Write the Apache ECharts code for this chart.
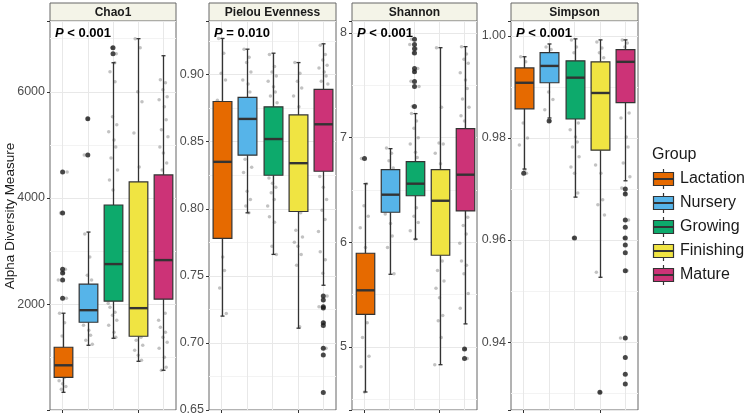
<!DOCTYPE html>
<html>
<head>
<meta charset="utf-8">
<script src="https://cdn.jsdelivr.net/npm/echarts@6/dist/echarts.min.js"></script>
<style>
  html, body { margin: 0; background: #fff; }
  #chart { width: 750px; height: 417px; }
</style>
</head>
<body>
<div id="chart"></div>
<script>
const GROUPS = ["Lactation", "Nursery", "Growing", "Finishing", "Mature"];
const GROUP_COLORS = ["#E66A00", "#56B4E9", "#0DAA6C", "#F0E442", "#CC3377"];
const PANEL_TITLES = ["Chao1", "Pielou Evenness", "Shannon", "Simpson"];
const P_TEXTS = ["< 0.001", "= 0.010", "< 0.001", "< 0.001"];
const Y_TITLE = "Alpha Diversity Measure";
const LEGEND_TITLE = "Group";

// box stats per group: [lower whisker, q1, median, q3, upper whisker]
const chao1Box = [[340, 622, 849, 1189, 1830], [1226, 1660, 1887, 2377, 3358], [1358, 2057, 2755, 3868, 6547], [924, 1396, 1925, 4302, 7000], [755, 2094, 2830, 4434, 6679]];
const pielouBox = [[0.720, 0.778, 0.835, 0.880, 0.927], [0.797, 0.840, 0.867, 0.883, 0.919], [0.766, 0.825, 0.852, 0.876, 0.916], [0.711, 0.798, 0.834, 0.870, 0.909], [0.743, 0.828, 0.863, 0.889, 0.923]];
const shannonBox = [[4.569, 5.311, 5.541, 5.895, 6.560], [5.694, 6.287, 6.455, 6.694, 6.895], [6.03, 6.445, 6.56, 6.77, 7.23], [4.83, 5.876, 6.397, 6.694, 7.86], [5.22, 6.30, 6.646, 7.086, 7.87]];
const simpsonBox = [[0.9739, 0.9857, 0.9908, 0.9937, 0.9959], [0.9839, 0.9908, 0.9941, 0.9967, 0.9984], [0.9684, 0.9837, 0.9918, 0.9951, 0.9994], [0.9527, 0.9776, 0.9888, 0.9949, 0.9992], [0.9716, 0.9869, 0.9949, 0.9973, 0.9992]];

// outliers: [group index, value]
const chao1Out = [[0, 2113], [0, 2453], [0, 2585], [0, 2660], [0, 3717], [0, 4490], [1, 4811], [1, 5490], [2, 6717], [2, 6830]];
const pielouOut = [[4, 0.735], [4, 0.732], [4, 0.727], [4, 0.726], [4, 0.715], [4, 0.713], [4, 0.696], [4, 0.691], [4, 0.663]];
const shannonOut = [[0, 6.80], [2, 7.297], [2, 7.49], [2, 7.536], [2, 7.63], [2, 7.66], [2, 7.81], [2, 7.85], [2, 7.89], [2, 7.94], [4, 4.98], [4, 4.89]];
const simpsonOut = [[0, 0.9731], [1, 0.9833], [2, 0.9604], [3, 0.9302], [4, 0.9700], [4, 0.9690], [4, 0.9639], [4, 0.9625], [4, 0.9604], [4, 0.9590], [4, 0.9575], [4, 0.9540], [4, 0.9408], [4, 0.9370], [4, 0.9337], [4, 0.9318]];

// individual samples visible outside the boxes, per group
const chao1Pts = [
  [1830, 1650, 1400, 2113, 2453, 2585, 2660, 3717, 4490, 560, 500, 450, 400, 620],
  [3320, 2887, 2547, 2453, 1604, 1509, 1415, 1320, 1245, 4811, 5490],
  [6378, 6190, 5528, 5377, 5245, 5094, 4962, 4755, 4528, 4340, 4151, 6717, 6830, 6547, 2019, 1943, 1849, 1792, 1698, 1604, 1472, 1377],
  [7000, 6830, 6000, 5811, 5226, 4585, 1377, 1320, 1226, 1132, 1038, 943],
  [6226, 6170, 6038, 5906, 5849, 5717, 5472, 5283, 5151, 4962, 4849, 4660, 4528, 1830, 1698, 1566, 1472, 1377, 1283, 1170, 1000, 811, 755],
];
const pielouPts = [
  [0.927, 0.916, 0.901, 0.896, 0.881, 0.764, 0.754, 0.741, 0.722],
  [0.919, 0.913, 0.909, 0.902, 0.896, 0.893, 0.887, 0.837, 0.831, 0.827, 0.813, 0.807, 0.802, 0.797],
  [0.915, 0.906, 0.902, 0.899, 0.895, 0.891, 0.887, 0.884, 0.879, 0.823, 0.819, 0.816, 0.812, 0.807, 0.802, 0.794, 0.790, 0.772, 0.766],
  [0.909, 0.901, 0.895, 0.890, 0.884, 0.876, 0.797, 0.784, 0.779, 0.775, 0.772, 0.766, 0.758, 0.712],
  [0.922, 0.915, 0.911, 0.907, 0.905, 0.902, 0.899, 0.895, 0.893, 0.824, 0.816, 0.807, 0.799, 0.792, 0.783, 0.768, 0.762, 0.752, 0.735, 0.727, 0.715, 0.696],
];
const shannonPts = [
  [6.80, 6.56, 6.35, 6.25, 6.14, 5.95, 5.23, 5.09, 4.91, 4.81, 4.57],
  [6.90, 6.85, 6.78, 6.71, 6.27, 6.18, 6.06, 5.95, 5.70],
  [7.23, 7.16, 7.09, 7.00, 6.94, 6.86, 6.81, 7.30, 7.49, 7.54, 7.63, 7.66, 7.81, 7.85, 7.89, 7.94, 6.33, 6.25, 6.19, 6.11, 6.03],
  [7.86, 7.29, 6.95, 6.94, 6.85, 6.75, 5.82, 5.73, 5.63, 5.56, 5.47, 5.30, 5.25, 5.09, 4.83],
  [7.87, 7.80, 7.75, 7.71, 7.62, 7.55, 7.47, 7.37, 7.29, 7.21, 7.16, 6.24, 6.16, 6.08, 5.99, 5.82, 5.78, 5.70, 5.51, 5.37, 4.98, 4.89],
];
const simpsonPts = [
  [0.9959, 0.9949, 0.9829, 0.9800, 0.9786, 0.9737, 0.9731],
  [0.9978, 0.9973, 0.9890, 0.9875, 0.9855, 0.9833],
  [0.9992, 0.9978, 0.9967, 0.9829, 0.9816, 0.9802, 0.9792, 0.9782, 0.9763, 0.9743, 0.9731, 0.9692, 0.9604],
  [0.9988, 0.9976, 0.9967, 0.9957, 0.9747, 0.9731, 0.9679, 0.9669, 0.9649, 0.9537, 0.9302],
  [0.9992, 0.9986, 0.9978, 0.9849, 0.9839, 0.9802, 0.9782, 0.9751, 0.9724, 0.9702, 0.9692, 0.9639, 0.9604, 0.9540, 0.9408],
];

const BOXES = [chao1Box, pielouBox, shannonBox, simpsonBox];
const OUTLIERS = [chao1Out, pielouOut, shannonOut, simpsonOut];
const POINTS = [chao1Pts, pielouPts, shannonPts, simpsonPts];

// axis ranges and steps per panel
const Y_AXES = [
  { min: 7, max: 7333, major: 2000, minor: 1000, digits: 0 },
  { min: 0.65, max: 0.940, major: 0.05, minor: 0.025, digits: 2 },
  { min: 4.397, max: 8.115, major: 1, minor: 0.5, digits: 0 },
  { min: 0.9267, max: 1.0029, major: 0.02, minor: 0.01, digits: 2 },
];

// layout
const PANEL_LEFT = [50, 209, 352, 511];
const PANEL_WIDTH = [126, 127, 125, 127];
const PANEL_TOP = 21;
const PANEL_BOTTOM = 410;
const STRIP_TOP = 3;
const JITTER = [-0.12, 0.08, -0.02, 0.15, -0.17, 0.04, 0.11, -0.08, 0.18, -0.14, 0.0, 0.13, -0.05, 0.07, -0.19];
const FONT = "Liberation Sans, Arial, sans-serif";
const BORDER = "#666";
const INK = "#333";

function stepSettings(cfg, step) {
  const ratio = cfg.min / step;
  if (Math.abs(ratio - Math.round(ratio)) < 1e-6) {
    return { interval: step };
  }
  return { splitNumber: Math.round((cfg.max - cfg.min) / step) };
}

function renderBox(params, api) {
  const i = api.value(0);
  const lo = api.coord([i, api.value(1)]);
  const q1 = api.coord([i, api.value(2)]);
  const md = api.coord([i, api.value(3)]);
  const q3 = api.coord([i, api.value(4)]);
  const hi = api.coord([i, api.value(5)]);
  const cx = Math.round(lo[0]) + 0.5;
  const half = api.size([1, 0])[0] * 0.37;
  const line = (x1, y1, x2, y2, w) => ({
    type: "line",
    z2: 5,
    shape: { x1, y1, x2, y2 },
    style: { stroke: INK, lineWidth: w },
  });

  return {
    type: "group",
    children: [
      line(cx, hi[1], cx, q3[1], 1.3),
      line(cx, q1[1], cx, lo[1], 1.3),
      line(cx - 2, hi[1], cx + 2, hi[1], 1.3),
      line(cx - 2, lo[1], cx + 2, lo[1], 1.3),
      {
        type: "rect",
        z2: 6,
        shape: { x: cx - half, y: q3[1], width: half * 2, height: q1[1] - q3[1] },
        style: { fill: GROUP_COLORS[i], stroke: INK, lineWidth: 1.2 },
      },
      {
        type: "line",
        z2: 7,
        shape: { x1: cx - half, y1: md[1], x2: cx + half, y2: md[1] },
        style: { stroke: INK, lineWidth: 2.4 },
      },
    ],
  };
}

const grids = [];
const xAxes = [];
const yAxes = [];
const series = [];
const graphics = [];

PANEL_TITLES.forEach((title, k) => {
  const cfg = Y_AXES[k];

  grids.push({
    left: PANEL_LEFT[k],
    width: PANEL_WIDTH[k],
    top: PANEL_TOP,
    height: PANEL_BOTTOM - PANEL_TOP,
    show: true,
    borderColor: BORDER,
    borderWidth: 1,
    backgroundColor: "transparent",
  });

  xAxes.push({
    type: "category",
    gridIndex: k,
    data: GROUPS,
    axisLine: { show: false },
    axisLabel: { show: false },
    axisTick: { show: true, alignWithLabel: true, length: 3, lineStyle: { color: INK } },
    splitLine: { show: false },
  });
  xAxes.push({
    type: "value",
    gridIndex: k,
    min: -0.5,
    max: 4.5,
    show: false,
  });

  // minor grid lines first, so the major ones are drawn over them
  yAxes.push({
    type: "value",
    gridIndex: k,
    min: cfg.min,
    max: cfg.max,
    ...stepSettings(cfg, cfg.minor),
    position: "left",
    axisLine: { show: false },
    axisTick: { show: false },
    axisLabel: { show: false },
    splitLine: { show: true, lineStyle: { color: "#F3F3F3", width: 1 } },
  });
  yAxes.push({
    type: "value",
    gridIndex: k,
    min: cfg.min,
    max: cfg.max,
    ...stepSettings(cfg, cfg.major),
    position: "left",
    axisLine: { show: false },
    axisTick: { show: true, length: 3, lineStyle: { color: INK } },
    axisLabel: {
      color: "#4D4D4D",
      fontSize: 12.5,
      fontFamily: FONT,
      margin: 5,
      formatter: (value) => {
        const r = value / cfg.major;
        if (Math.abs(r - Math.round(r)) > 1e-4) return "";
        return Number(value).toFixed(cfg.digits);
      },
    },
    splitLine: { show: true, lineStyle: { color: "#E8E8E8", width: 1 } },
  });

  const jitterData = [];
  POINTS[k].forEach((values, g) => {
    values.forEach((v, j) => {
      jitterData.push([g + JITTER[j % JITTER.length], v]);
    });
  });

  series.push({
    type: "scatter",
    xAxisIndex: 2 * k + 1,
    yAxisIndex: 2 * k + 1,
    data: jitterData,
    symbolSize: 3.5,
    itemStyle: { color: "rgba(85,85,85,0.45)" },
    silent: true,
    z: 1,
    markLine: {
      z: 0.5,
      silent: true,
      symbol: ["none", "none"],
      label: { show: false },
      lineStyle: { color: "#E8E8E8", width: 1, type: "solid" },
      data: GROUPS.map((_, i) => ({ xAxis: i })),
    },
  });

  series.push({
    type: "custom",
    xAxisIndex: 2 * k,
    yAxisIndex: 2 * k + 1,
    renderItem: renderBox,
    encode: { x: 0, y: [1, 2, 3, 4, 5] },
    data: BOXES[k].map((s, i) => [i, ...s]),
    silent: true,
    z: 10,
  });

  series.push({
    type: "scatter",
    xAxisIndex: 2 * k,
    yAxisIndex: 2 * k + 1,
    data: OUTLIERS[k],
    symbolSize: 5,
    itemStyle: { color: "#1A1A1A" },
    silent: true,
    z: 11,
  });

  // facet strip
  graphics.push({
    type: "rect",
    shape: { x: PANEL_LEFT[k], y: STRIP_TOP, width: PANEL_WIDTH[k], height: PANEL_TOP - STRIP_TOP },
    style: { fill: "#F4F4E8", stroke: BORDER, lineWidth: 1 },
  });
  graphics.push({
    type: "text",
    x: PANEL_LEFT[k] + PANEL_WIDTH[k] / 2,
    y: (STRIP_TOP + PANEL_TOP) / 2 + 1,
    style: {
      text: title,
      fontSize: 12,
      fontWeight: "bold",
      fontFamily: FONT,
      fill: "#1A1A1A",
      align: "center",
      verticalAlign: "middle",
    },
  });

  // p-value label
  graphics.push({
    type: "text",
    x: PANEL_LEFT[k] + 5,
    y: 33,
    z: 20,
    style: {
      text: "{i|P} " + P_TEXTS[k],
      fontSize: 13,
      fontWeight: "bold",
      fontFamily: FONT,
      fill: "#000",
      verticalAlign: "middle",
      rich: { i: { fontStyle: "italic", fontWeight: "bold", fontSize: 13, fontFamily: FONT } },
    },
  });
});

// y axis title
graphics.push({
  type: "text",
  x: 10,
  y: 216,
  rotation: Math.PI / 2,
  style: {
    text: Y_TITLE,
    fontSize: 13.5,
    fontFamily: FONT,
    fill: "#1A1A1A",
    align: "center",
    verticalAlign: "middle",
  },
});

// legend
graphics.push({
  type: "text",
  x: 652,
  y: 155,
  style: { text: LEGEND_TITLE, fontSize: 16, fontFamily: FONT, fill: "#1A1A1A", verticalAlign: "middle" },
});
GROUPS.forEach((name, i) => {
  const cy = 179 + i * 24;
  const cx = 663.5;
  const ln = (x1, y1, x2, y2, w) => ({
    type: "line",
    shape: { x1, y1, x2, y2 },
    style: { stroke: INK, lineWidth: w },
  });
  graphics.push(ln(cx, cy - 10, cx, cy - 6.5, 1.2));
  graphics.push(ln(cx, cy + 6.5, cx, cy + 10, 1.2));
  graphics.push({
    type: "rect",
    shape: { x: cx - 10, y: cy - 6.5, width: 20, height: 13 },
    style: { fill: GROUP_COLORS[i], stroke: INK, lineWidth: 1.2 },
  });
  graphics.push(ln(cx - 10, cy, cx + 10, cy, 2));
  graphics.push({
    type: "text",
    x: 680,
    y: cy,
    style: { text: name, fontSize: 16, fontFamily: FONT, fill: "#1A1A1A", verticalAlign: "middle" },
  });
});

const chart = echarts.init(document.getElementById("chart"));
chart.setOption({
  animation: false,
  backgroundColor: "#fff",
  grid: grids,
  xAxis: xAxes,
  yAxis: yAxes,
  series,
  graphic: graphics,
});
</script>
</body>
</html>
